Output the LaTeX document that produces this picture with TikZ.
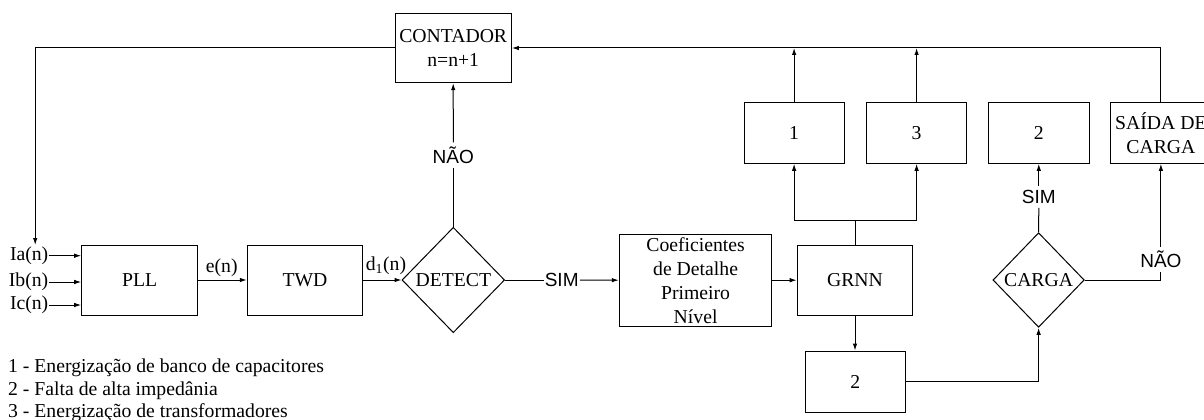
\documentclass[tikz,border=0pt]{standalone}
\usepackage{fontspec}
\setmainfont{Liberation Serif}
\newfontfamily\sansf{Liberation Sans}
\usetikzlibrary{arrows.meta,shapes.geometric}
\begin{document}
\begin{tikzpicture}[x=1pt,y=-1pt,
  every node/.style={font=\fontsize{19.7}{24}\selectfont},
  box/.style={draw, line width=1pt, inner sep=0pt, align=center},
  dmd/.style={draw, diamond, line width=1pt, inner sep=0pt, aspect=1},
  lbl/.style={inner sep=0pt},
  slbl/.style={font=\sansf\fontsize{19}{23}\selectfont, inner xsep=1pt, inner ysep=4pt},
  arr/.style={-{Latex[length=7pt,width=4.5pt]}, line width=1pt},
  ln/.style={line width=1pt}]
\useasboundingbox (0,0) rectangle (1204,420);

% blocks
\node[box, minimum width=116.3pt, minimum height=69.4pt] (cont) at (453.2,48) {CONTADOR\\n=n+1};
\node[box, minimum width=116pt, minimum height=70pt] (pll) at (139.7,280) {PLL};
\node[box, minimum width=115.4pt, minimum height=70pt] (twd) at (305,280) {TWD};
\node[dmd, minimum width=102.6pt, minimum height=105.4pt] (det) at (453.3,280) {DETECT};
\node[box, minimum width=152.6pt, minimum height=91.7pt] (coef) at (695.6,280.2) {Coeficientes\\de Detalhe\\Primeiro\\Nível};
\node[box, minimum width=115.6pt, minimum height=69.7pt] (grnn) at (855,280.2) {GRNN};
\node[box, minimum width=100pt, minimum height=61pt] (b1) at (794.1,132.8) {1};
\node[box, minimum width=100pt, minimum height=61pt] (b3) at (916.6,132.8) {3};
\node[box, minimum width=101pt, minimum height=61pt] (b2t) at (1038.8,132.8) {2};
\node[box, minimum width=100.4pt, minimum height=61pt] (saida) at (1160.9,132.8) {SAÍDA DE\\CARGA};
\node[box, minimum width=100.2pt, minimum height=61.3pt] (b2b) at (855.4,381.7) {2};
\node[dmd, minimum width=91.3pt, minimum height=94.6pt] (carga) at (1038.6,280) {CARGA};

% labels
\node[slbl] (nao1) at (453.3,155) {NÃO};
\node[slbl] (sim1) at (561.7,280) {SIM};
\node[slbl] (sim2) at (1038.8,196.9) {SIM};
\node[slbl] (nao2) at (1160.9,259.3) {NÃO};

\node[lbl, anchor=east] (ia) at (48.5,255.7) {Ia(n)};
\node[lbl, anchor=east] (ib) at (48.5,282) {Ib(n)};
\node[lbl, anchor=east] (ic) at (48.5,305) {Ic(n)};
\node[lbl] (en) at (221.7,268) {e(n)};
\node[lbl] (dn) at (386,265.5) {d\textsubscript{1}(n)};

\coordinate (fb) at (35.2,245);
\coordinate (br) at (855,220.3);

% connectors
\draw[arr] (ia.east) -- (ia.east -| pll.west);
\draw[arr] (ib.east) -- (ib.east -| pll.west);
\draw[arr] (ic.east) -- (ic.east -| pll.west);
\draw[arr] (pll.east) -- (twd.west);
\draw[arr] (twd.east) -- (det.west);
\draw[ln] (det.east) -- (sim1.west);
\draw[arr] (sim1.east) -- (coef.west);
\draw[arr] (coef.east) -- (grnn.west);
\draw[ln] (det.north) -- (nao1.south);
\draw[arr] (nao1.north) -- (cont.south);
\draw[arr] (cont.west) -| (fb);
\draw[arr] (saida.north) |- (cont.east);
\draw[arr] (b1.north) -- (b1.north |- cont.east);
\draw[arr] (b3.north) -- (b3.north |- cont.east);
\draw[ln] (grnn.north) -- (br);
\draw[arr] (br) -| (b1.south);
\draw[arr] (br) -| (b3.south);
\draw[arr] (grnn.south) -- (grnn.south |- b2b.north);
\draw[arr] (b2b.east) -| (carga.south);
\draw[ln] (carga.north) -- (sim2.south);
\draw[arr] (sim2.north) -- (b2t.south);
\draw[ln] (carga.east) -| (nao2.south);
\draw[arr] (nao2.north) -- (saida.south);

% legend
\node[lbl, anchor=base west] (l1) at (8,372.6) {1 - Energização de banco de capacitores};
\node[lbl, anchor=base west] (l2) at (8,395.1) {2 - Falta de alta impedânia};
\node[lbl, anchor=base west] (l3) at (8,417.6) {3 - Energização de transformadores};
\end{tikzpicture}
\end{document}
